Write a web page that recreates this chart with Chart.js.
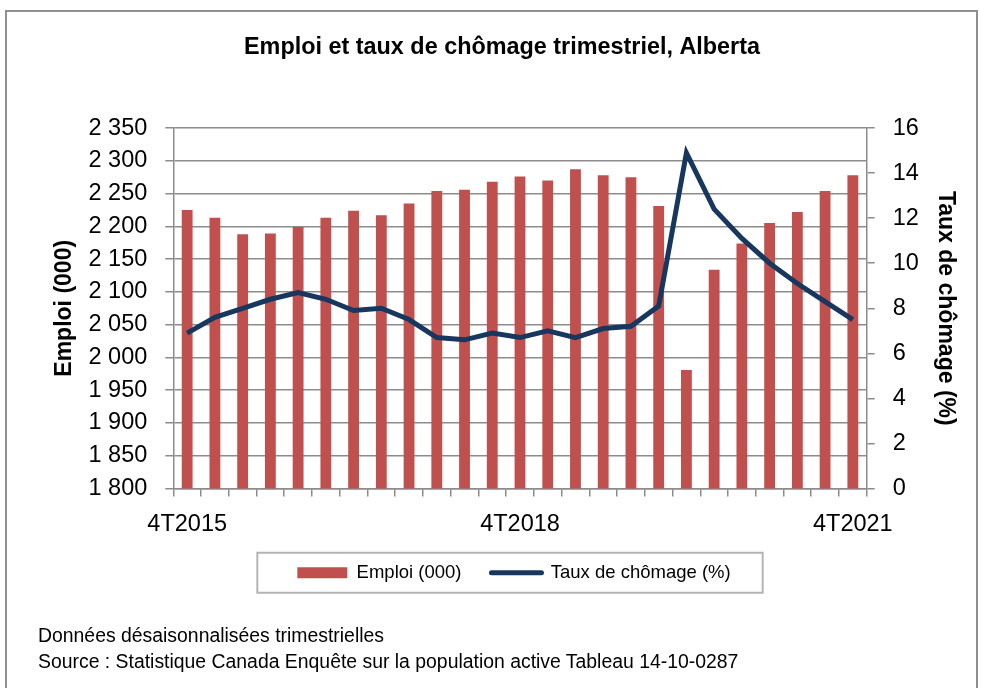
<!DOCTYPE html>
<html>
<head>
<meta charset="utf-8">
<script src="https://cdn.jsdelivr.net/npm/chart.js@4"></script>
<style>
  html, body { margin: 0; padding: 0; background: #fff; overflow: hidden; }
  #frame { position: absolute; left: 5px; top: 10px; width: 969px; height: 700px; border: 2px solid #8f8f8f; border-bottom: none; }
  #cv { position: absolute; left: 0; top: 0; }
  .note { position: absolute; left: 38px; font-family: 'Liberation Sans', Arial, sans-serif; font-size: 19.4px; color: #000; white-space: nowrap; }
</style>
</head>
<body>
<div id="frame"></div>
<canvas id="cv" width="981" height="688"></canvas>
<div class="note" style="top:624px">Données désaisonnalisées trimestrielles</div>
<div class="note" style="top:650px">Source : Statistique Canada Enquête sur la population active Tableau 14-10-0287</div>
<script>
'use strict'
// quarters 4T2015 .. 4T2021
let quarters = [
    "4T2015",
    "1T2016", "2T2016", "3T2016", "4T2016",
    "1T2017", "2T2017", "3T2017", "4T2017",
    "1T2018", "2T2018", "3T2018", "4T2018",
    "1T2019", "2T2019", "3T2019", "4T2019",
    "1T2020", "2T2020", "3T2020", "4T2020",
    "1T2021", "2T2021", "3T2021", "4T2021",
];
// Emploi (000)
let emploi = [
    2225, 2213, 2188, 2189, 2199, 2213, 2224, 2217, 2235,
    2254, 2256, 2268, 2276, 2270, 2287, 2278, 2275, 2231,
    1981, 2134, 2174, 2205, 2222, 2254, 2278,
];
// Taux de chômage (%)
let chomage = [
    6.9, 7.6, 8.0, 8.4, 8.7, 8.4, 7.9, 8.0, 7.5,
    6.7, 6.6, 6.9, 6.7, 7.0, 6.7, 7.1, 7.2, 8.1,
    14.9, 12.4, 11.1, 10.0, 9.1, 8.3, 7.5,
];
let shownTicks = ["4T2015", "4T2018", "4T2021"];

let fontFamily = "'Liberation Sans', Arial, sans-serif";
let gridColor = "#8c8c8c";

// thousands with a space, like "2 350"
function spaced(v) {
    let s = String(Math.round(v));
    return s.length > 3 ? s.slice(0, s.length - 3) + " " + s.slice(-3) : s;
}

let legendFramePlugin = {
    id: "legendFrame",
    afterLayout: function (chart) {
        // nudge the legend to sit where the original one was
        let lg = chart.legend;
        lg.left += 12;
        lg.right += 12;
    },
    afterDraw: function (chart) {
        let boxes = chart.legend.legendHitBoxes;
        if (!boxes || !boxes.length) return;
        let left = Math.min.apply(null, boxes.map(b => b.left));
        let right = Math.max.apply(null, boxes.map(b => b.left + b.width));
        let mid = boxes[0].top + boxes[0].height / 2;
        let ctx = chart.ctx;
        ctx.save();
        ctx.strokeStyle = "#b4b4b4";
        ctx.lineWidth = 2;
        ctx.strokeRect(left - 40, mid - 20, right - left + 72, 40);
        ctx.restore();
    },
};

let chart = new Chart("cv", {
    type: "bar",
    data: {
        labels: quarters,
        datasets: [
            {
                label: "Emploi (000)",
                data: emploi,
                backgroundColor: "#C0504D",
                barPercentage: 0.39,
                categoryPercentage: 1,
                yAxisID: "y",
                order: 1,
            },
            {
                type: "line",
                label: "Taux de chômage (%)",
                data: chomage,
                borderColor: "#17375E",
                backgroundColor: "#17375E",
                borderWidth: 5,
                pointRadius: 0,
                tension: 0,
                yAxisID: "y1",
                order: 0,
            },
        ],
    },
    options: {
        responsive: false,
        animation: false,
        layout: { padding: { left: 23, right: 0, top: 0, bottom: 96 } },
        plugins: {
            title: {
                display: true,
                text: "Emploi et taux de chômage trimestriel, Alberta",
                color: "#000",
                font: { family: fontFamily, size: 23.4, weight: "bold" },
                padding: { top: 34, bottom: 66 },
            },
            legend: {
                position: "bottom",
                labels: {
                    color: "#000",
                    font: { family: fontFamily, size: 18.5 },
                    usePointStyle: true,
                    pointStyleWidth: 50,
                    boxHeight: 11,
                    padding: 30,
                    sort: function (a, b) { return a.datasetIndex - b.datasetIndex; },
                    generateLabels: function (c) {
                        let items = Chart.defaults.plugins.legend.labels.generateLabels(c);
                        items.forEach(function (it) {
                            if (it.datasetIndex === 0) {
                                it.pointStyle = "rect";
                                it.lineWidth = 0;
                                it.fillStyle = "#C0504D";
                                it.strokeStyle = "#C0504D";
                            } else {
                                it.pointStyle = "line";
                                it.lineWidth = 5;
                                it.strokeStyle = "#17375E";
                                it.lineCap = "round";
                            }
                        });
                        return items;
                    },
                },
            },
            tooltip: { enabled: false },
        },
        scales: {
            x: {
                offset: true,
                afterFit: function (scale) { scale.height = 45; },
                grid: {
                    offset: true,
                    drawOnChartArea: false,
                    tickLength: 8,
                    color: gridColor,
                    lineWidth: 1.5,
                },
                border: { color: gridColor, width: 1.5 },
                ticks: {
                    autoSkip: false,
                    maxRotation: 0,
                    padding: 14,
                    color: "#000",
                    font: { family: fontFamily, size: 23.5 },
                    callback: function (value, index) {
                        let lab = quarters[index];
                        return shownTicks.indexOf(lab) >= 0 ? lab : "";
                    },
                },
            },
            y: {
                position: "left",
                min: 1800,
                max: 2350,
                afterFit: function (scale) { scale.width = 150.3; },
                grid: { color: gridColor, lineWidth: 1.5, tickLength: 8 },
                border: { color: gridColor, width: 1.5 },
                ticks: {
                    stepSize: 50,
                    padding: 18,
                    color: "#000",
                    font: { family: fontFamily, size: 23.5 },
                    callback: function (v) { return spaced(v); },
                },
                title: {
                    display: true,
                    text: "Emploi (000)",
                    color: "#000",
                    font: { family: fontFamily, size: 23, weight: "bold" },
                    padding: { top: 28, bottom: 0 },
                },
            },
            y1: {
                position: "right",
                min: 0,
                max: 16,
                afterFit: function (scale) { scale.width = 114.3; },
                grid: { drawOnChartArea: false, color: gridColor, lineWidth: 1.5, tickLength: 8 },
                border: { color: gridColor, width: 1.5 },
                ticks: {
                    stepSize: 2,
                    padding: 18,
                    color: "#000",
                    font: { family: fontFamily, size: 23.5 },
                },
                title: {
                    display: true,
                    text: "Taux de chômage (%)",
                    color: "#000",
                    font: { family: fontFamily, size: 23, weight: "bold" },
                    padding: { top: 22, bottom: 0 },
                },
            },
        },
    },
    plugins: [legendFramePlugin],
});
</script>
</body>
</html>
